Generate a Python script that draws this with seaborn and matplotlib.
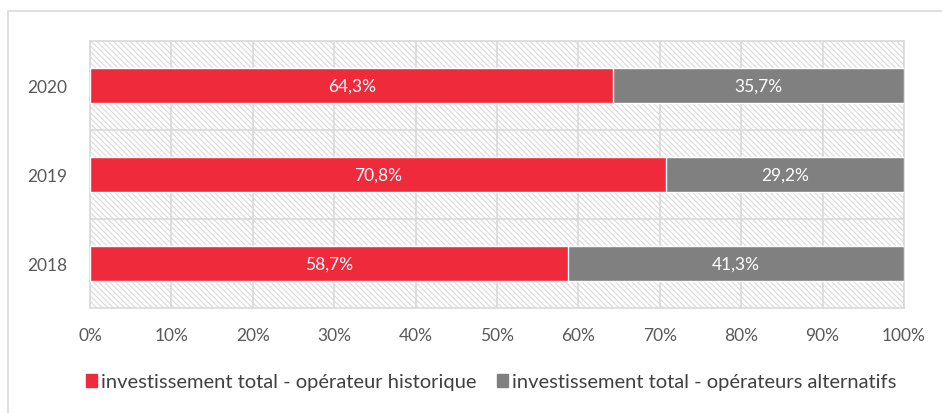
import matplotlib
matplotlib.use("Agg")
import matplotlib.pyplot as plt
import matplotlib.patches as mpatches
import pandas as pd
import seaborn as sns

years = ["2020", "2019", "2018"]
historique = [64.3, 70.8, 58.7]
alternatifs = [35.7, 29.2, 41.3]
series_names = [
    "investissement total - opérateur historique",
    "investissement total - opérateurs alternatifs",
]
x_ticks = list(range(0, 101, 10))

red = "#EE2A3B"
gray = "#808080"
text_col = "#595959"
grid_col = "#D9D9D9"

sns.set_style("white")
plt.rcParams["font.family"] = ["Lato", "DejaVu Sans"]
plt.rcParams["hatch.color"] = grid_col
plt.rcParams["hatch.linewidth"] = 0.8

df = pd.DataFrame({"year": years, "hist": historique, "alt": alternatifs})
df["total"] = df["hist"] + df["alt"]

fig = plt.figure(figsize=(9.42, 4.14), dpi=100)
ax = fig.add_axes([90 / 942, 1 - 309 / 414, 814 / 942, 267 / 414])

# hatched plot area background
ax.add_patch(mpatches.Rectangle((0, 0), 1, 1, transform=ax.transAxes, facecolor="white",
                                edgecolor=grid_col, hatch="\\" * 6, lw=0, zorder=0))

sns.barplot(data=df, y="year", x="total", order=years, color=gray, width=0.4,
            saturation=1, ax=ax, zorder=3)
sns.barplot(data=df, y="year", x="hist", order=years, color=red, width=0.4,
            saturation=1, ax=ax, zorder=4)

for i, row in df.iterrows():
    ax.text(row["hist"] / 2, i, f"{row['hist']:.1f}%".replace(".", ","), color="white",
            ha="center", va="center", fontsize=12.5, zorder=5)
    ax.text(row["hist"] + row["alt"] / 2, i, f"{row['alt']:.1f}%".replace(".", ","),
            color="white", ha="center", va="center", fontsize=12.5, zorder=5)

ax.set_xlim(0, 100)
ax.set_ylim(2.5, -0.5)
ax.set_xticks(x_ticks)
ax.set_xticklabels([f"{t}%" for t in x_ticks])
ax.tick_params(axis="both", length=0, labelsize=12.5, labelcolor=text_col)
ax.tick_params(axis="x", pad=14)
ax.tick_params(axis="y", pad=16.5)
ax.set_xlabel("")
ax.set_ylabel("")
for t in x_ticks:
    ax.axvline(t, color=grid_col, lw=1.2, zorder=1)
for y in [0.5, 1.5]:
    ax.axhline(y, color=grid_col, lw=1.2, zorder=1)
for s in ax.spines.values():
    s.set_visible(True)
    s.set_color(grid_col)
    s.set_linewidth(1.2)

handles = [mpatches.Patch(color=red, label=series_names[0]),
           mpatches.Patch(color=gray, label=series_names[1])]
fig.legend(handles=handles, loc="center", bbox_to_anchor=(491 / 942, 1 - 383 / 414), ncol=2,
           frameon=False, fontsize=14.5, handlelength=0.55, handleheight=0.6,
           handletextpad=0.2, columnspacing=1.0, labelcolor="#404040")

# outer chart border
fig.add_artist(mpatches.Rectangle((8 / 942, -0.01), 2, 1 - 12 / 414 + 0.01,
                                  transform=fig.transFigure, fill=False,
                                  edgecolor=grid_col, lw=1.2))

fig.savefig("out.png", dpi=100)
